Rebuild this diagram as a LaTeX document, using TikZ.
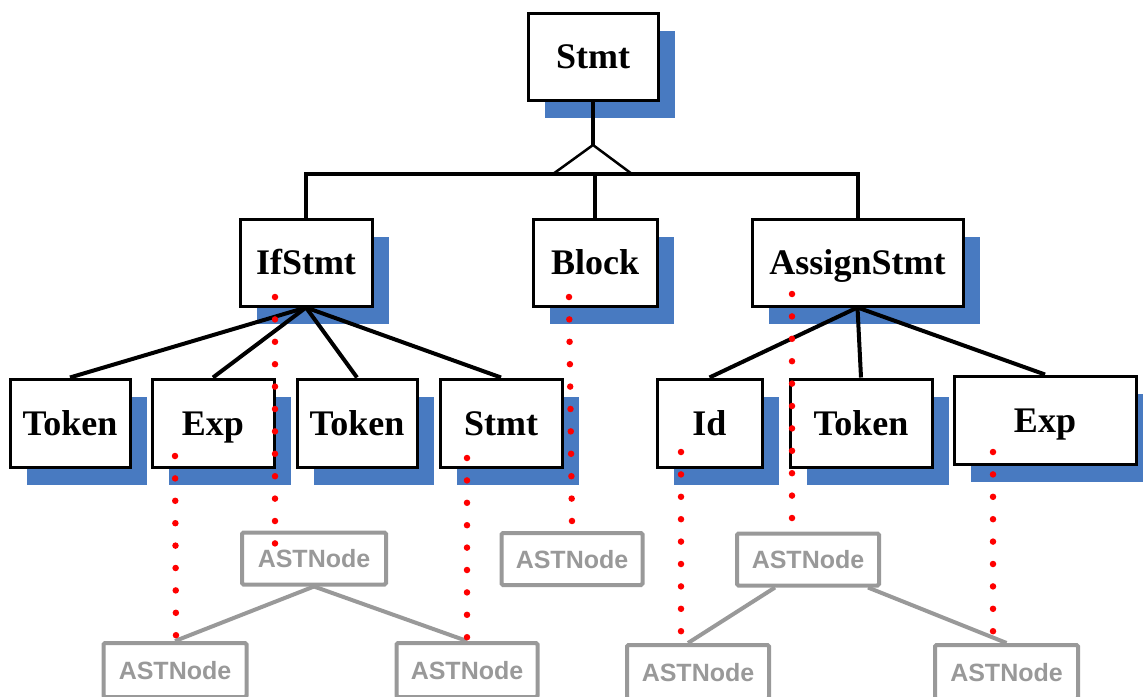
\documentclass[tikz,border=0pt]{standalone}
\usepackage{fontspec}
\setmainfont{Liberation Serif}
\newfontfamily\arialfont{Liberation Sans}
\usetikzlibrary{shadows}
\definecolor{shadowblue}{RGB}{72,122,193}
\definecolor{astgray}{RGB}{153,153,153}
\tikzset{
  bbox/.style={draw=black, line width=3pt, fill=white, inner sep=0pt,
    minimum height=87pt, text height=24pt, text depth=0pt,
    font=\fontsize{36}{36}\selectfont\bfseries,
    general shadow={fill=shadowblue, shadow xshift=17pt, shadow yshift=-18pt}},
  astbox/.style={draw=astgray, line width=4pt, fill=white, inner sep=0pt,
    minimum width=141pt, minimum height=52pt, rounded corners=1.5pt,
    text height=18pt, text depth=0pt,
    text=astgray, font=\arialfont\fontsize{25}{25}\selectfont\bfseries},
  tree/.style={line width=4pt, black},
  astline/.style={line width=4pt, astgray},
  reddots/.style={red, line width=6.5pt, line cap=round, dash pattern=on 0pt off 22.4pt}
}
\begin{document}
\begin{tikzpicture}[x=1pt, y=-1pt]
\useasboundingbox (0,0) rectangle (1143,696);
\clip (0,0) rectangle (1143,696);
% level 1
\node[bbox, minimum width=130pt] (stmt) at (593,56.5) {Stmt};
% level 2
\node[bbox, minimum width=132pt] (ifstmt) at (306,262.5) {IfStmt};
\node[bbox, minimum width=124pt] (block) at (595,262.5) {Block};
\node[bbox, minimum width=211pt] (assign) at (857.5,262.5) {AssignStmt};
% level 3
\node[bbox, minimum width=120pt, minimum height=88pt] (token1) at (70,423) {Token};
\node[bbox, minimum width=122pt, minimum height=88pt] (exp1) at (213,423) {Exp};
\node[bbox, minimum width=120pt, minimum height=88pt] (token2) at (357,423) {Token};
\node[bbox, minimum width=122pt, minimum height=88pt] (stmt2) at (501,423) {Stmt};
\node[bbox, minimum width=105pt, minimum height=88pt] (id) at (709.5,423) {Id};
\node[bbox, minimum width=142pt, minimum height=88pt] (token3) at (861,423) {Token};
\node[bbox, minimum width=182pt, minimum height=88pt] (exp3) at (1045,420) {Exp};
% top connectors
\coordinate (apex) at (593,145);
\coordinate (bar) at (593,174);
\draw[tree] (stmt.south) -- (apex);
\draw[line width=2.5pt] (apex) -- (553,174) -- (632,174) -- cycle;
\draw[tree] (ifstmt.north) -- (ifstmt.north |- bar) -- (assign.north |- bar) -- (assign.north);
\draw[tree] (block.north) -- (block.north |- bar);
% IfStmt children
\foreach \c in {token1,exp1,token2,stmt2}
  \draw[tree] (ifstmt.south) -- (\c.north);
% AssignStmt children
\foreach \c in {id,token3,exp3}
  \draw[tree] (assign.south) -- (\c.north);
% AST nodes
\node[astbox, minimum width=144pt] (a1) at (314,558.5) {ASTNode};
\node[astbox, minimum width=141pt] (a4) at (572,559) {ASTNode};
\node[astbox, minimum width=142pt] (a5) at (808,559.5) {ASTNode};
\node[astbox, minimum width=143pt, minimum height=54pt] (a2) at (175,670) {ASTNode};
\node[astbox, minimum width=141pt, minimum height=54pt] (a3) at (467,670) {ASTNode};
\node[astbox, minimum width=142pt, minimum height=54pt] (a6) at (698,672) {ASTNode};
\node[astbox, minimum width=143pt, minimum height=54pt] (a7) at (1006.5,672) {ASTNode};
\draw[astline] (a1.south) -- (a2.north);
\draw[astline] (a1.south) -- (a3.north);
\draw[astline] ([xshift=-33pt]a5.south) -- ([xshift=-10pt]a6.north);
\draw[astline] ([xshift=60pt]a5.south) -- (a7.north);
% red dotted correspondences
\coordinate (r1s) at (275,297);   \coordinate (r1e) at (275,544);
\coordinate (r2s) at (175,456);   \coordinate (r2e) at (176,636);
\coordinate (r3s) at (467,458);   \coordinate (r3e) at (467,638);
\coordinate (r4s) at (569,297);   \coordinate (r4e) at (572,522);
\coordinate (r5s) at (681,452);   \coordinate (r5e) at (681,632);
\coordinate (r6s) at (792,294);   \coordinate (r6e) at (792,519);
\coordinate (r7s) at (993,452);   \coordinate (r7e) at (993,632);
\foreach \i in {1,...,7}
  \draw[reddots] (r\i s) -- (r\i e);
\end{tikzpicture}
\end{document}
